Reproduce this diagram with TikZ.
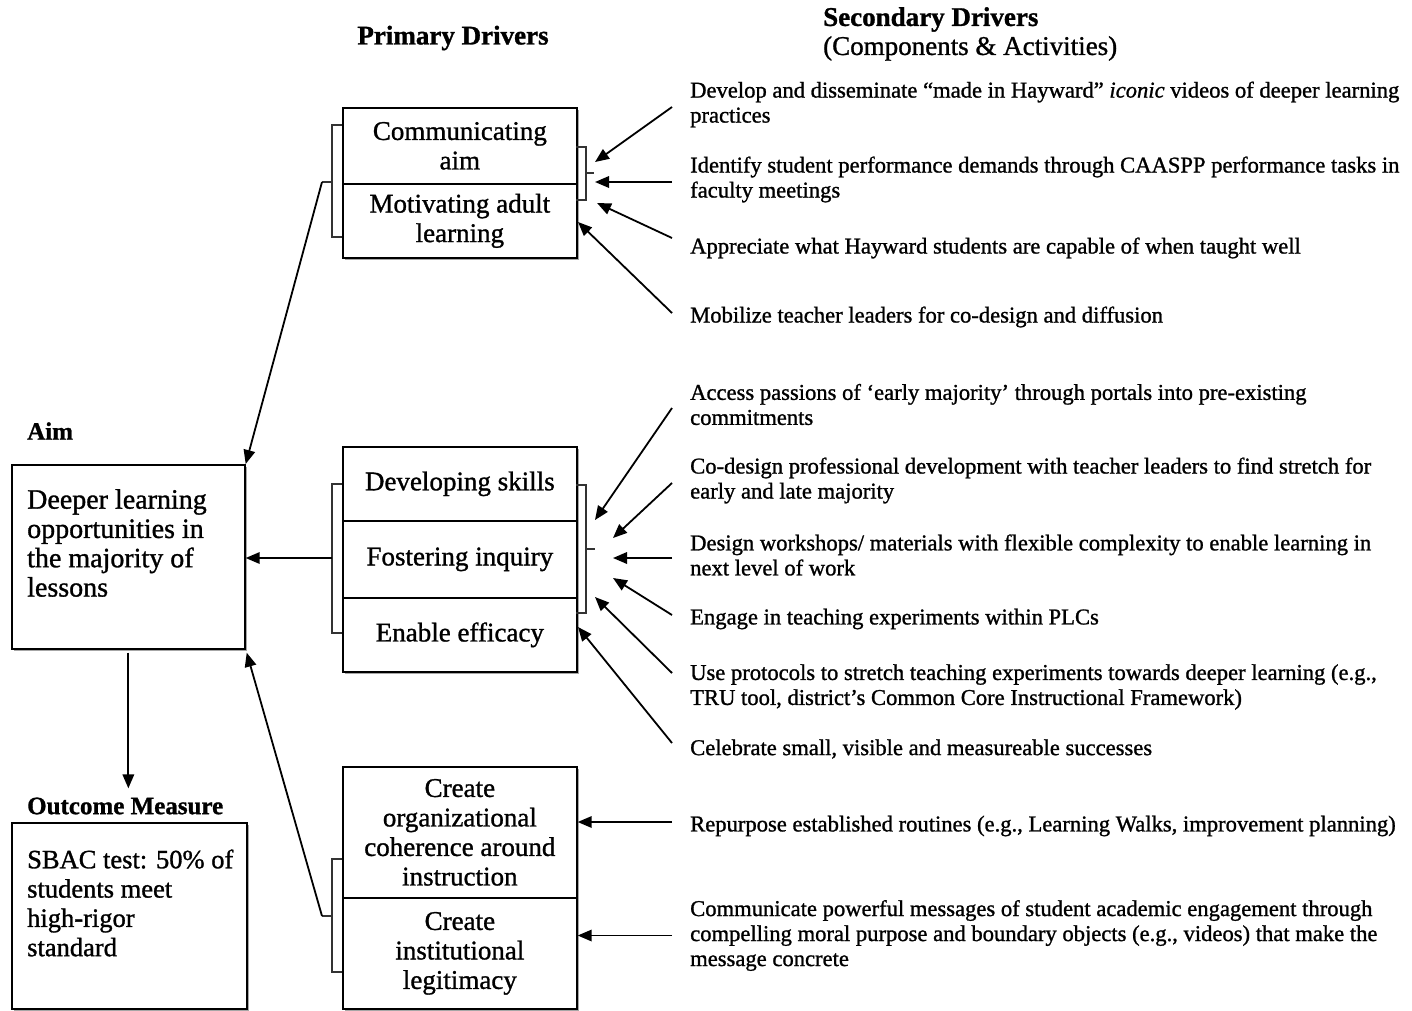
\documentclass[tikz,border=0pt]{standalone}
\usepackage{fontspec}
\setmainfont{Liberation Serif}[FakeBold=1.1]
\usetikzlibrary{arrows.meta,calc,shadows}
\begin{document}
\begin{tikzpicture}[x=1pt,y=-1pt,
  shd/.style={drop shadow={shadow xshift=1.8pt,shadow yshift=-1.8pt,fill=black,opacity=0.35}},
  pbox/.style={draw,line width=1.7pt,fill=white,anchor=north west,minimum width=234pt,inner sep=0pt,align=center,font=\fontsize{27}{29.5}\selectfont,shd},
  abox/.style={draw,line width=1.7pt,fill=white,anchor=north west,inner sep=0pt,shd},
  btxt/.style={anchor=west,align=left,inner sep=0pt},
  lbl/.style={anchor=west,inner sep=0pt,font=\fontsize{25}{28}\selectfont\bfseries},
  sec/.style={anchor=west,align=left,inner sep=0pt,font=\fontsize{22.6}{25}\selectfont},
  arr/.style={line width=1.8pt,-{Triangle[length=14pt,width=11.5pt]}},
  brk/.style={line width=1.1pt,draw=black!80}
]
\useasboundingbox (0,0) rectangle (1412,1010);

% headers
\node[anchor=center,inner sep=0pt,font=\fontsize{27}{28}\selectfont\bfseries] (hprim) at (453,38) {Primary Drivers};
\node[anchor=north west,align=left,inner sep=0pt,font=\fontsize{27}{29}\selectfont] (hsec) at (823,7) {\textbf{Secondary Drivers}\\(Components \& Activities)};

% aim
\node[lbl] (aimlbl) at (27,431) {Aim};
\node[abox,minimum width=233pt,minimum height=184pt] (aim) at (11,464) {};
\node[btxt,font=\fontsize{28}{29.3}\selectfont] (aimtxt) at (27,543) {Deeper learning\\opportunities in\\the majority of\\lessons};

% outcome
\node[lbl] (outlbl) at (27,806) {Outcome Measure};
\node[abox,minimum width=235pt,minimum height=186pt] (out) at (11,822) {};
\node[btxt,font=\fontsize{26.5}{29.3}\selectfont] (outtxt) at (27,903) {SBAC test: 50\% of\\students meet\\high-rigor\\standard};

% primary drivers
\node[pbox,minimum height=76pt] (c1) at (342,107) {Communicating\\aim};
\node[pbox,minimum height=74pt] (c2) at (342,183) {Motivating adult\\learning};

\node[pbox,minimum height=74pt] (d1) at (342,446) {Developing skills};
\node[pbox,minimum height=77pt] (d2) at (342,520) {Fostering inquiry};
\node[pbox,minimum height=74pt] (d3) at (342,597) {Enable efficacy};

\node[pbox,minimum height=131pt] (e1) at (342,766) {Create\\organizational\\coherence around\\instruction};
\node[pbox,minimum height=111pt] (e2) at (342,897) {Create\\institutional\\legitimacy};

% secondary drivers
\node[sec] (s1) at (690,104.5) {Develop and disseminate “made in Hayward” \textit{iconic} videos of deeper learning\\practices};
\node[sec] (s2) at (690,179.5) {Identify student performance demands through CAASPP performance tasks in\\faculty meetings};
\node[sec] (s3) at (690,248) {Appreciate what Hayward students are capable of when taught well};
\node[sec] (s4) at (690,317) {Mobilize teacher leaders for co-design and diffusion};
\node[sec] (s5) at (690,404.5) {Access passions of ‘early majority’ through portals into pre-existing\\commitments};
\node[sec] (s6) at (690,480.5) {Co-design professional development with teacher leaders to find stretch for\\early and late majority};
\node[sec] (s7) at (690,555) {Design workshops/ materials with flexible complexity to enable learning in\\next level of work};
\node[sec] (s8) at (690,619) {Engage in teaching experiments within PLCs};
\node[sec] (s9) at (690,687) {Use protocols to stretch teaching experiments towards deeper learning (e.g.,\\TRU tool, district’s Common Core Instructional Framework)};
\node[sec] (s10) at (690,749) {Celebrate small, visible and measureable successes};
\node[sec] (s11) at (690,826) {Repurpose established routines (e.g., Learning Walks, improvement planning)};
\node[sec] (s12) at (690,935.5) {Communicate powerful messages of student academic engagement through\\compelling moral purpose and boundary objects (e.g., videos) that make the\\message concrete};

% left brackets
\draw[brk] (342,125) -- (332,125) -- (332,237) -- (342,237);
\draw[brk] (332,182) -- (322,182);
\coordinate (bl1) at (322,182);
\draw[brk] (342,484) -- (332,484) -- (332,633) -- (342,633);
\coordinate (bl2) at (332,558);
\draw[brk] (342,859) -- (332,859) -- (332,972) -- (342,972);
\draw[brk] (332,916) -- (322,916);
\coordinate (bl3) at (322,916);

% right brackets
\draw[brk] (576,147) -- (586,147) -- (586,200) -- (576,200);
\draw[brk] (586,173) -- (594,173);
\draw[brk] (576,485) -- (586,485) -- (586,613) -- (576,613);
\draw[brk] (586,549) -- (595,549);

% connectors to aim
\draw[arr] (bl1) -- (aim.north east);
\draw[arr] (bl2) -- (aim.east |- bl2);
\draw[arr] (bl3) -- ($(aim.south east)+(1,3)$);
\draw[arr,shorten >=9pt] ($(aim.south)+(0,3)$) -- (outlbl.north -| aim.south);

% tips
\coordinate (t1) at (595,162);
\coordinate (t2) at (595,182);
\coordinate (t3) at (597,203);
\coordinate (t4) at (578,222);
\coordinate (u1) at (595,520);
\coordinate (u2) at (613,538);
\coordinate (u3) at (613,558);
\coordinate (u4) at (613,578);
\coordinate (u5) at (595,597);
\coordinate (u6) at (578,627);

\draw[arr] ($(s1.west)+(-18,2.5)$) -- (t1);
\draw[arr] ($(s2.west)+(-18,2.5)$) -- (t2);
\draw[arr] ($(s3.west)+(-18,-10)$) -- (t3);
\draw[arr] ($(s4.west)+(-18,-4)$) -- (t4);
\draw[arr] ($(s5.west)+(-18,3.5)$) -- (u1);
\draw[arr] ($(s6.west)+(-18,2.5)$) -- (u2);
\draw[arr] ($(s7.west)+(-18,3)$) -- (u3);
\draw[arr] ($(s8.west)+(-18,-4)$) -- (u4);
\draw[arr] ($(s9.west)+(-18,-14)$) -- (u5);
\draw[arr] ($(s10.west)+(-18,-6)$) -- (u6);
\draw[arr] ($(s11.west)+(-18,-4)$) -- ($(e1.east |- s11.west)+(0,-4)$);
\draw[arr] ($(s12.west)+(-18,0)$) -- (e2.east |- s12.west);
\end{tikzpicture}
\end{document}
